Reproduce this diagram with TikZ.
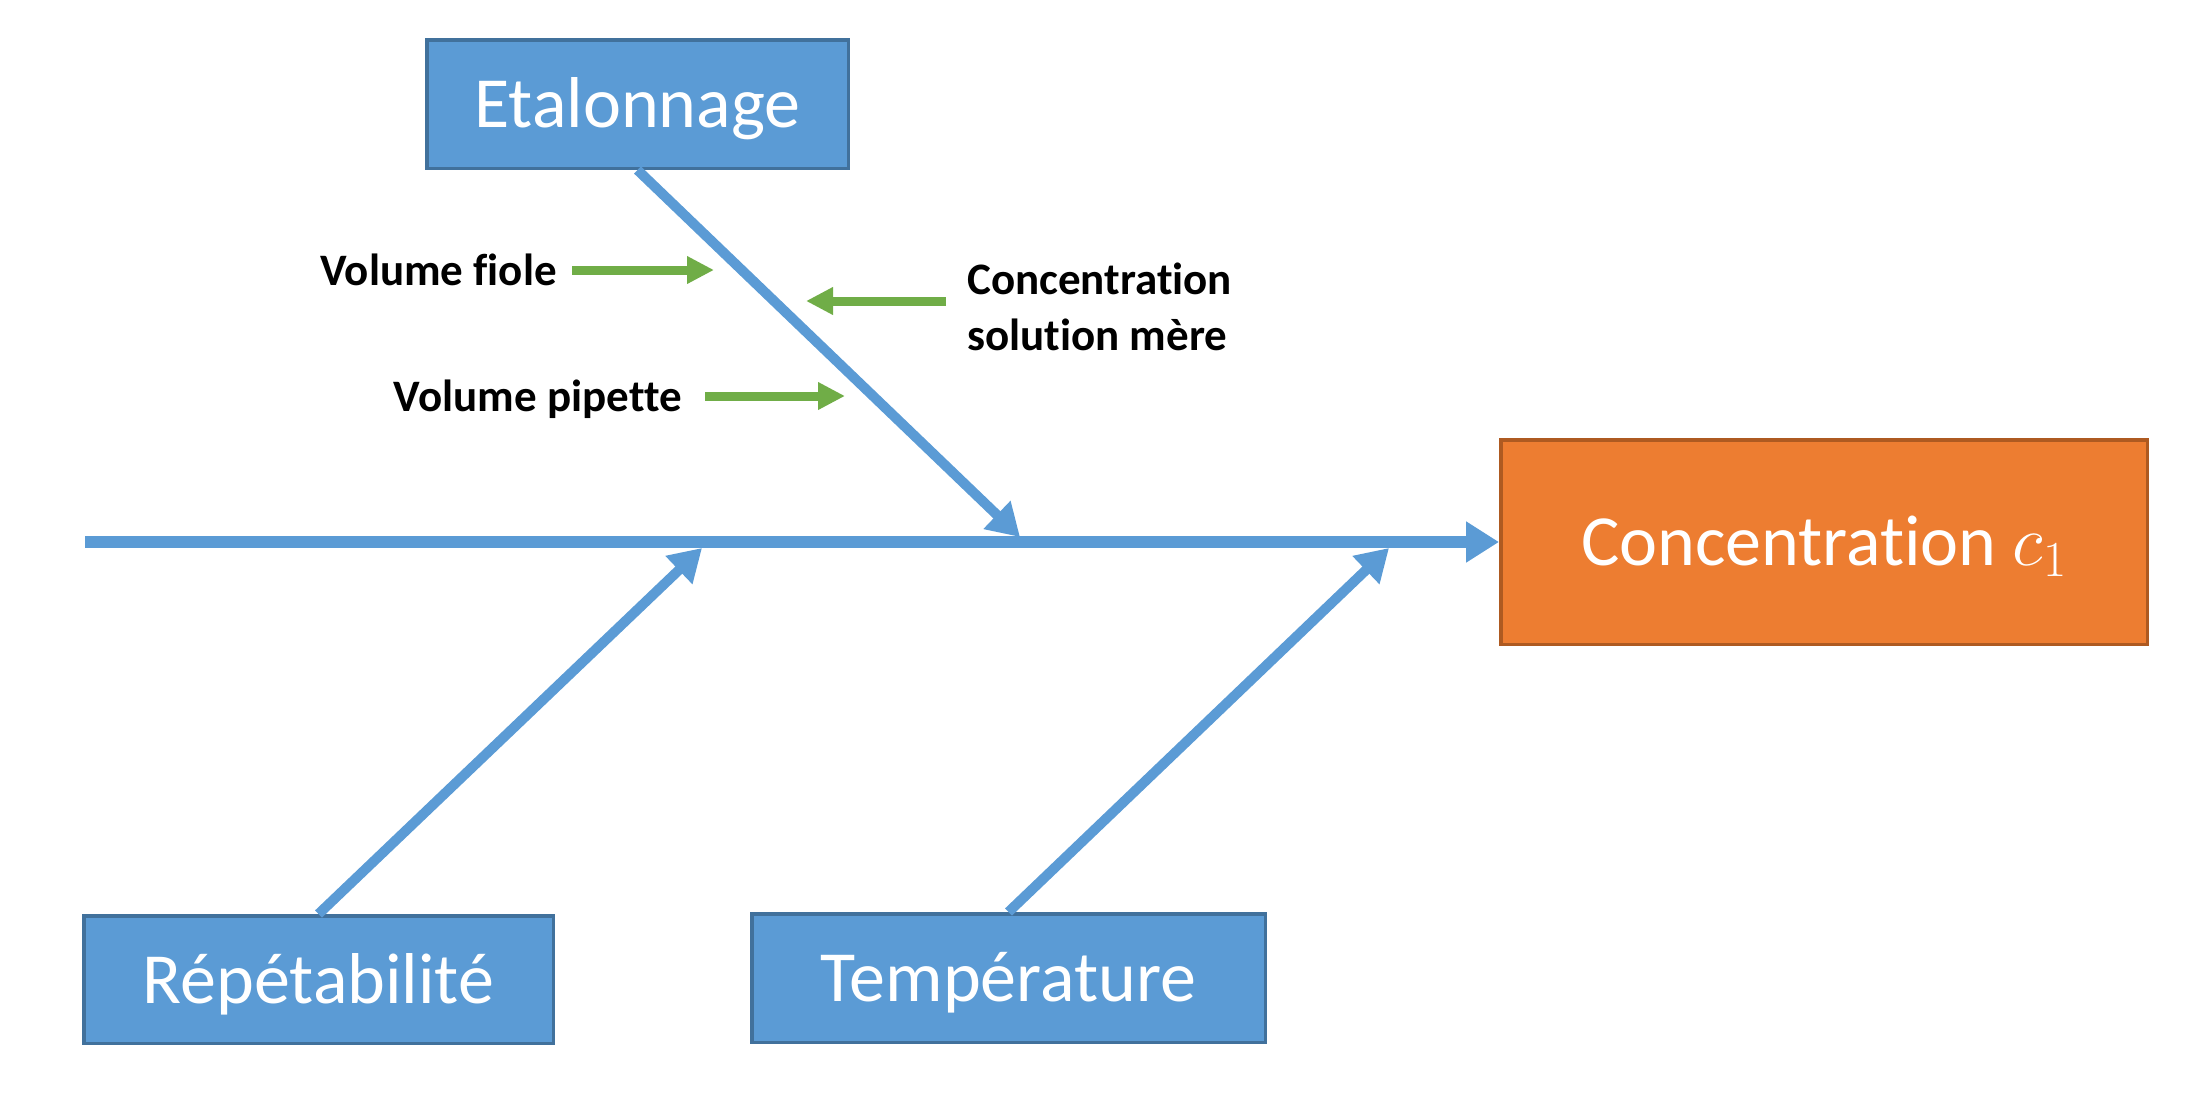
\documentclass[tikz,border=0pt]{standalone}
\usepackage{fix-cm}
\usepackage{fontspec}
\setmainfont[Ligatures=NoCommon]{Carlito}
\usepackage{xcolor}
\usetikzlibrary{arrows.meta, positioning, calc}

\definecolor{boneblue}{HTML}{5B9BD5}
\definecolor{boneedge}{HTML}{41719C}
\definecolor{effectorange}{HTML}{ED7D31}
\definecolor{effectedge}{HTML}{AE5A21}
\definecolor{subgreen}{HTML}{70AD47}

\begin{document}
\begin{tikzpicture}[
  x=1pt, y=-1pt,
  cause/.style={draw=boneedge, line width=3.5pt, fill=boneblue, text=white,
    font=\fontsize{72}{86}\selectfont, text height=47pt, text depth=0pt},
  effect/.style={draw=effectedge, line width=3.5pt, fill=effectorange, text=white,
    font=\fontsize{72}{86}\selectfont, text height=47pt, text depth=0pt},
  bone/.style={draw=boneblue, line width=10pt, -{Triangle[length=32pt, width=37pt]}},
  spine/.style={draw=boneblue, line width=12pt, -{Triangle[length=33pt, width=39pt]}},
  sublbl/.style={font=\fontsize{45}{56}\selectfont\bfseries, align=left, inner ysep=0pt},
  subarrow/.style={draw=subgreen, line width=9pt, -{Triangle[length=27pt, width=26pt]}},
]
\useasboundingbox (0,0) rectangle (2211,1104);

% boxes
\node[cause, minimum width=421.5pt, minimum height=128.5pt] (etal) at (637.5,104) {Etalonnage};
\node[cause, minimum width=469.5pt, minimum height=127.5pt] (rep) at (318.5,979.5) {Répétabilité};
\node[cause, minimum width=513.5pt, minimum height=128.5pt] (temp) at (1008.5,978) {Température};
\node[effect, minimum width=646.5pt, minimum height=204.5pt] (conc) at (1824,542) {Concentration $c_1$};

% spine and bones
\coordinate (tail) at (85,542);
\coordinate (etaltip) at (1020,537);
\coordinate (reptip) at (702,548);
\coordinate (temptip) at (1389,548);
\draw[spine] (tail) -- (conc.west);
\draw[bone] (etal.south) -- (etaltip);
\draw[bone] (rep.north) -- (reptip);
\draw[bone] (temp.north) -- (temptip);

% sub-causes of Etalonnage
\coordinate (fioletip) at (714,270);
\coordinate (pipettetip) at (845,396);
\coordinate (meretip) at (806,301);
\node[sublbl, anchor=east, inner xsep=15pt] (fiole) at (572,270) {Volume fiole};
\node[sublbl, anchor=east, inner xsep=23pt] (pipette) at (705,399) {Volume pipette};
\node[sublbl, anchor=west, inner xsep=21pt] (mere) at (946,307) {Concentration\\solution mère};
\draw[subarrow] (fiole.east |- fioletip) -- (fioletip);
\draw[subarrow] (pipette.east |- pipettetip) -- (pipettetip);
\draw[subarrow] (mere.west |- meretip) -- (meretip);
\end{tikzpicture}
\end{document}
